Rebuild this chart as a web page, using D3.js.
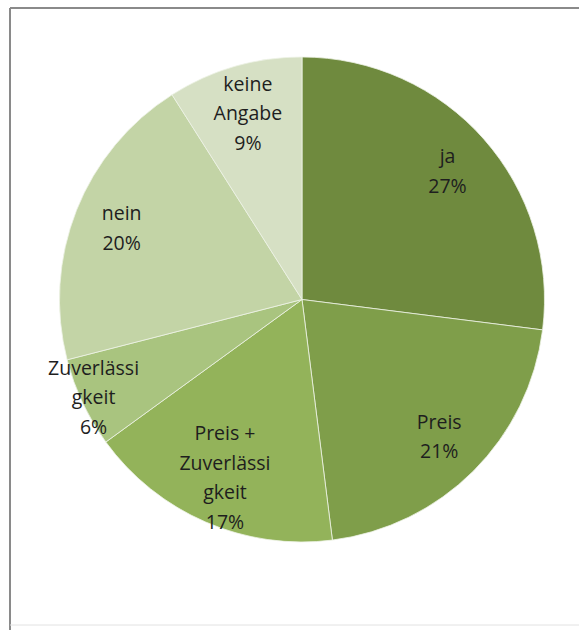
<!DOCTYPE html>
<html>
<head>
<meta charset="utf-8">
<script src="https://cdn.jsdelivr.net/npm/d3@7"></script>
<style>
  body { margin: 0; background: #fff; }
  svg text { font-family: "Open Sans", "Noto Sans", sans-serif; font-size: 19.5px; fill: #1e1e1e; }
</style>
</head>
<body>
<svg id="chart" width="579" height="630"></svg>
<script>
// slice data, clockwise from 12 o'clock
const labels = [["ja"], ["Preis"], ["Preis +", "Zuverlässi", "gkeit"], ["Zuverlässi", "gkeit"], ["nein"], ["keine", "Angabe"]];
const values = [27, 21, 17, 6, 20, 9];
const colors = ["#6f8a3e", "#7f9e4a", "#93b35a", "#a9c47f", "#c3d4a6", "#d6e0c4"];

const width = 579, height = 630;
const cx = 302, cy = 299.5, radius = 242.5;
// Excel "best fit" pushes the narrow slice label outwards
const labelRadius = i => values[i] < 8 ? radius * 0.95 : radius * 0.8;

const svg = d3.select('#chart');

// chart-area frame
svg.append('line').attr('x1', 10).attr('y1', 8).attr('x2', width).attr('y2', 8)
    .attr('stroke', '#8a8a8a').attr('stroke-width', 2);
svg.append('line').attr('x1', 10).attr('y1', 8).attr('x2', 10).attr('y2', height)
    .attr('stroke', '#8a8a8a').attr('stroke-width', 2);
svg.append('line').attr('x1', 10).attr('y1', 625).attr('x2', width).attr('y2', 625)
    .attr('stroke', '#e2e2e2').attr('stroke-width', 1);

const pie = d3.pie().sort(null).value(d => d);
const arcs = pie(values);
const arc = d3.arc().innerRadius(0).outerRadius(radius);

const g = svg.append('g').attr('transform', 'translate(' + cx + ',' + cy + ')');

g.selectAll('.slice')
    .data(arcs)
    .enter().append('path')
    .attr('class', 'slice')
    .attr('d', arc)
    .attr('fill', (d, i) => colors[i])
    .attr('stroke', '#eef2e6')
    .attr('stroke-width', 0.8);

const lineH = 29.5;
const lbl = g.selectAll('.label')
    .data(arcs)
    .enter().append('text')
    .attr('class', 'label')
    .attr('text-anchor', 'middle')
    .attr('transform', (d, i) => {
        const r = labelRadius(i);
        const c = d3.arc().innerRadius(r).outerRadius(r).centroid(d);
        return 'translate(' + c + ')';
    });

lbl.each(function (d, i) {
    const lines = labels[i].concat([values[i] + '%']);
    const t = d3.select(this);
    const y0 = -(lines.length - 1) * lineH / 2;
    lines.forEach((s, k) => {
        t.append('tspan')
            .attr('x', 0)
            .attr('y', y0 + k * lineH)
            .attr('dy', '0.35em')
            .text(s);
    });
});
</script>
</body>
</html>
